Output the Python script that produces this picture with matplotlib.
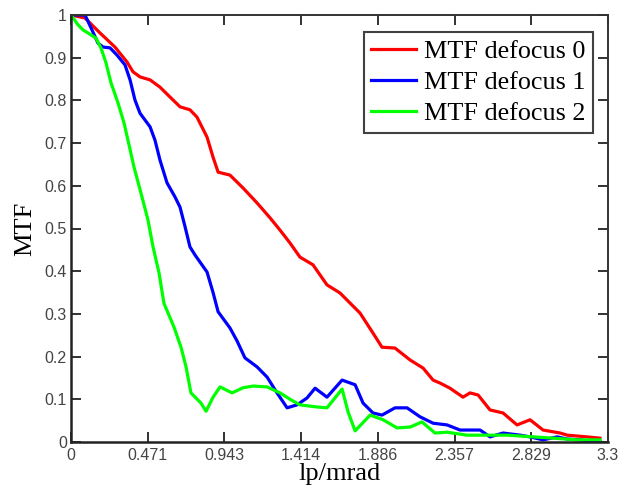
import matplotlib
matplotlib.use("Agg")
import matplotlib.pyplot as plt

# defocus 0 (red)
x0 = [0.0, 0.086, 0.178, 0.270, 0.344, 0.381, 0.424, 0.486, 0.547, 0.608, 0.670, 0.731, 0.774,
      0.836, 0.873, 0.904, 0.977, 1.057, 1.143, 1.223, 1.285, 1.346, 1.407, 1.487, 1.573, 1.653,
      1.776, 1.856, 1.911, 1.991, 2.084, 2.164, 2.225, 2.268, 2.329, 2.409, 2.452, 2.502, 2.575,
      2.655, 2.741, 2.821, 2.901, 3.006, 3.049, 3.171, 3.25]
y0 = [1.0, 0.993, 0.958, 0.925, 0.890, 0.867, 0.855, 0.848, 0.831, 0.808, 0.785, 0.778, 0.761,
      0.714, 0.667, 0.632, 0.625, 0.595, 0.560, 0.525, 0.496, 0.466, 0.433, 0.415, 0.368, 0.349,
      0.302, 0.255, 0.222, 0.220, 0.192, 0.173, 0.145, 0.138, 0.126, 0.105, 0.115, 0.110, 0.075,
      0.068, 0.040, 0.052, 0.028, 0.021, 0.016, 0.012, 0.009]

# defocus 1 (blue)
x1 = [0.0, 0.086, 0.129, 0.166, 0.197, 0.240, 0.283, 0.332, 0.363, 0.393, 0.424, 0.486, 0.516,
      0.547, 0.590, 0.639, 0.670, 0.701, 0.731, 0.762, 0.836, 0.873, 0.904, 0.977, 1.020, 1.069,
      1.143, 1.205, 1.266, 1.328, 1.389, 1.450, 1.500, 1.573, 1.666, 1.746, 1.795, 1.856, 1.911,
      1.991, 2.065, 2.145, 2.225, 2.311, 2.391, 2.514, 2.575, 2.655, 2.760, 2.821, 2.901, 2.987,
      3.049, 3.128, 3.251]
y1 = [1.0, 1.0, 0.965, 0.934, 0.925, 0.923, 0.906, 0.883, 0.848, 0.801, 0.770, 0.738, 0.707,
      0.660, 0.607, 0.574, 0.550, 0.504, 0.457, 0.438, 0.398, 0.350, 0.305, 0.267, 0.237, 0.197,
      0.176, 0.152, 0.115, 0.080, 0.087, 0.103, 0.126, 0.105, 0.145, 0.134, 0.091, 0.068, 0.063,
      0.080, 0.080, 0.059, 0.044, 0.040, 0.028, 0.028, 0.012, 0.021, 0.016, 0.012, 0.005, 0.012,
      0.007, 0.005, 0.0]

# defocus 2 (green)
x2 = [0.0, 0.043, 0.074, 0.104, 0.153, 0.184, 0.215, 0.246, 0.289, 0.326, 0.350, 0.387, 0.430,
      0.473, 0.504, 0.541, 0.571, 0.633, 0.676, 0.707, 0.737, 0.799, 0.830, 0.873, 0.916, 0.990,
      1.057, 1.119, 1.205, 1.285, 1.346, 1.407, 1.512, 1.573, 1.666, 1.703, 1.746, 1.838, 1.918,
      2.004, 2.084, 2.157, 2.237, 2.311, 2.434, 2.557, 2.680, 2.840, 2.963, 3.110, 3.251]
y2 = [1.0, 0.977, 0.965, 0.958, 0.946, 0.923, 0.888, 0.841, 0.794, 0.747, 0.707, 0.644, 0.583,
      0.520, 0.457, 0.396, 0.325, 0.269, 0.222, 0.176, 0.115, 0.091, 0.072, 0.105, 0.129, 0.115,
      0.127, 0.131, 0.129, 0.115, 0.100, 0.087, 0.082, 0.080, 0.124, 0.070, 0.026, 0.063, 0.052,
      0.033, 0.035, 0.047, 0.021, 0.023, 0.016, 0.016, 0.016, 0.012, 0.009, 0.005, 0.005]

labels = ["MTF defocus 0", "MTF defocus 1", "MTF defocus 2"]
xticks = [0, 0.471, 0.943, 1.414, 1.886, 2.357, 2.829, 3.3]
xticklabels = ["0", "0.471", "0.943", "1.414", "1.886", "2.357", "2.829", "3.3"]
yticks = [0, 0.1, 0.2, 0.3, 0.4, 0.5, 0.6, 0.7, 0.8, 0.9, 1]
yticklabels = ["0", "0.1", "0.2", "0.3", "0.4", "0.5", "0.6", "0.7", "0.8", "0.9", "1"]

fig = plt.figure(figsize=(6.25, 4.97), dpi=100)
ax = fig.add_axes([71/625, 1-442/497, 537/625, 427/497])

ax.plot(x0, y0, color="#ff0000", lw=2.3, label=labels[0])
ax.plot(x1, y1, color="#0000ff", lw=2.3, label=labels[1])
ax.plot(x2, y2, color="#00ff00", lw=2.3, label=labels[2])

ax.set_xlim(0, 3.3)
ax.set_ylim(0, 1)
ax.set_xticks(xticks)
ax.set_xticklabels(xticklabels)
ax.set_yticks(yticks)
ax.set_yticklabels(yticklabels)

for lab in ax.get_xticklabels() + ax.get_yticklabels():
    lab.set_fontfamily("Liberation Sans")
    lab.set_fontsize(11.5)
    lab.set_color("#444444")

ax.tick_params(direction="in", length=7, width=1.3, color="#222222",
               top=True, right=True, pad=4)
ax.tick_params(axis="y", pad=3)

for side in ["left", "bottom"]:
    ax.spines[side].set_linewidth(1.8)
    ax.spines[side].set_color("#222222")
for side in ["top", "right"]:
    ax.spines[side].set_linewidth(1.4)
    ax.spines[side].set_color("#333333")

ax.set_xlabel("lp/mrad", fontfamily="Liberation Serif", fontsize=19, labelpad=0)
ax.set_ylabel("MTF", fontfamily="Liberation Serif", fontsize=19, labelpad=6)

leg = ax.legend(loc="upper right", bbox_to_anchor=((593-71)/537, (442-32)/427),
                borderaxespad=0, prop=dict(family="Liberation Serif", size=18.8),
                frameon=True, fancybox=False, handlelength=1.7, handletextpad=0.3,
                labelspacing=0.3, borderpad=0.3)
leg.get_frame().set_edgecolor("#111111")
leg.get_frame().set_linewidth(1.5)

fig.savefig("out.png", dpi=100)
